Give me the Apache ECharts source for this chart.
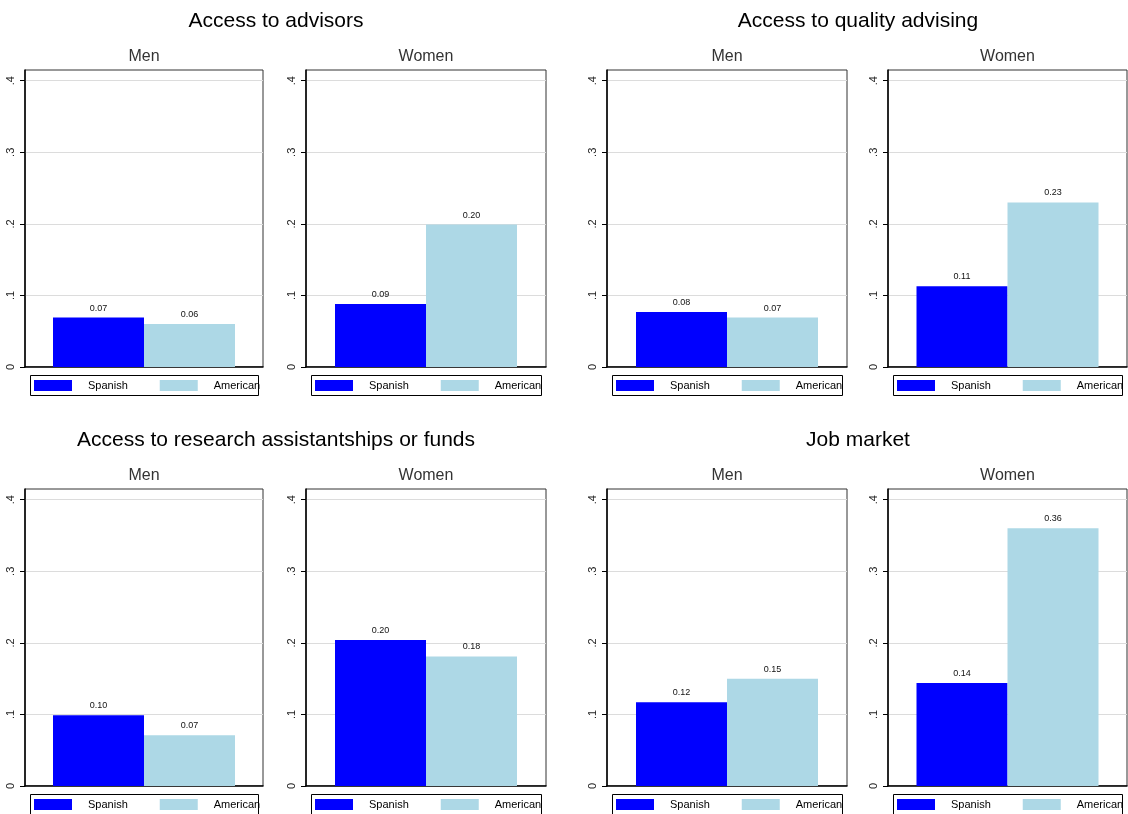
<!DOCTYPE html>
<html>
<head>
<meta charset="utf-8">
<script src="https://cdn.jsdelivr.net/npm/echarts@6/dist/echarts.min.js"></script>
<style>
html,body{margin:0;padding:0;background:#fff;}
#chart{width:1128px;height:814px;}
</style>
</head>
<body>
<div id="chart"></div>
<script>
// ---- data ----
const panelTitles = ['Access to advisors', 'Access to quality advising', 'Access to research assistantships or funds', 'Job market'];
const groups = ['Men', 'Women'];
const seriesNames = ['Spanish', 'American'];
// order: panel0 Men, panel0 Women, panel1 Men, panel1 Women, ...
const spanish  = [0.069, 0.088, 0.077, 0.113, 0.099, 0.204, 0.117, 0.144];
const american = [0.060, 0.199, 0.069, 0.230, 0.071, 0.181, 0.150, 0.360];
const yTicks = [0, 0.1, 0.2, 0.3, 0.4];
const categories = [''];

// ---- layout ----
const gridLefts = [25, 306, 607, 888];
const gridWidths = [238, 240, 240, 239];
const rowTops = [70, 489];
const gridHeight = 297;
const yMax = 0.415;
const colors = ['#0000FF', '#ADD8E6'];

const chart = echarts.init(document.getElementById('chart'));
const grid = [], xAxis = [], yAxis = [], series = [], legend = [], title = [], graphic = [];
const font = 'Liberation Sans, Arial, sans-serif';

for (let p = 0; p < 4; p++) {
  const row = Math.floor(p / 2), colPair = p % 2;
  title.push({
    text: panelTitles[p],
    left: colPair === 0 ? 276 : 858,
    top: rowTops[row] - 59,
    textAlign: 'center', padding: 0,
    textStyle: {fontFamily: font, fontSize: 21, fontWeight: 'normal', color: '#000'}
  });
  for (let g = 0; g < 2; g++) {
    const idx = p * 2 + g;
    const col = colPair * 2 + g;
    const left = gridLefts[col], width = gridWidths[col], top = rowTops[row];
    grid.push({left: left, top: top, width: width, height: gridHeight, show: true, borderColor: '#333', borderWidth: 1, backgroundColor: '#fff'});
    title.push({
      text: groups[g], left: left + width / 2, top: top - 21, textAlign: 'center', padding: 0,
      textStyle: {fontFamily: font, fontSize: 16, fontWeight: 'normal', color: '#333'}
    });
    xAxis.push({
      type: 'category', gridIndex: idx, data: categories,
      axisLine: {show: true, lineStyle: {color: '#000', width: 1.5}},
      axisTick: {show: false}, axisLabel: {show: false}, splitLine: {show: false}
    });
    yAxis.push({
      type: 'value', gridIndex: idx, min: 0, max: yMax,
      axisLine: {show: true, lineStyle: {color: '#000', width: 1.5}},
      axisTick: {show: true, length: 5, lineStyle: {color: '#000'}, customValues: yTicks},
      axisLabel: {
        show: true, rotate: 90, margin: 9, fontSize: 11, fontFamily: font, color: '#222',
        customValues: yTicks,
        formatter: v => v === 0 ? '0' : v.toFixed(1).replace(/^0/, '')
      },
      splitLine: {show: true, lineStyle: {color: '#dcdcdc', width: 1}}
    });
    const vals = [spanish[idx], american[idx]];
    for (let s = 0; s < 2; s++) {
      series.push({
        type: 'bar', name: seriesNames[s], xAxisIndex: idx, yAxisIndex: idx,
        data: [vals[s]], barWidth: 91, barGap: '0%',
        itemStyle: {color: colors[s]},
        label: {
          show: true, position: 'top', distance: 5, fontSize: 9, fontFamily: font, color: '#111',
          formatter: pr => pr.value.toFixed(2)
        },
        emphasis: {disabled: true}, animation: false
      });
    }
    // legend box
    const lx = left + 5, ly = top + gridHeight + 8;
    graphic.push({
      type: 'rect', left: lx, top: ly, z: 1,
      shape: {width: width - 10, height: 20},
      style: {fill: '#fff', stroke: '#000', lineWidth: 1}
    });
    legend.push({
      data: seriesNames, left: lx + 4, top: ly + 5, orient: 'horizontal',
      itemWidth: 38, itemHeight: 11, itemGap: 32, padding: 0, z: 5,
      icon: 'rect', selectedMode: false,
      textStyle: {fontFamily: font, fontSize: 11, color: '#000', padding: [0, 0, 0, 11]}
    });
  }
}

chart.setOption({
  animation: false,
  backgroundColor: '#fff',
  title: title, grid: grid, xAxis: xAxis, yAxis: yAxis, series: series, legend: legend, graphic: graphic
});
</script>
</body>
</html>
